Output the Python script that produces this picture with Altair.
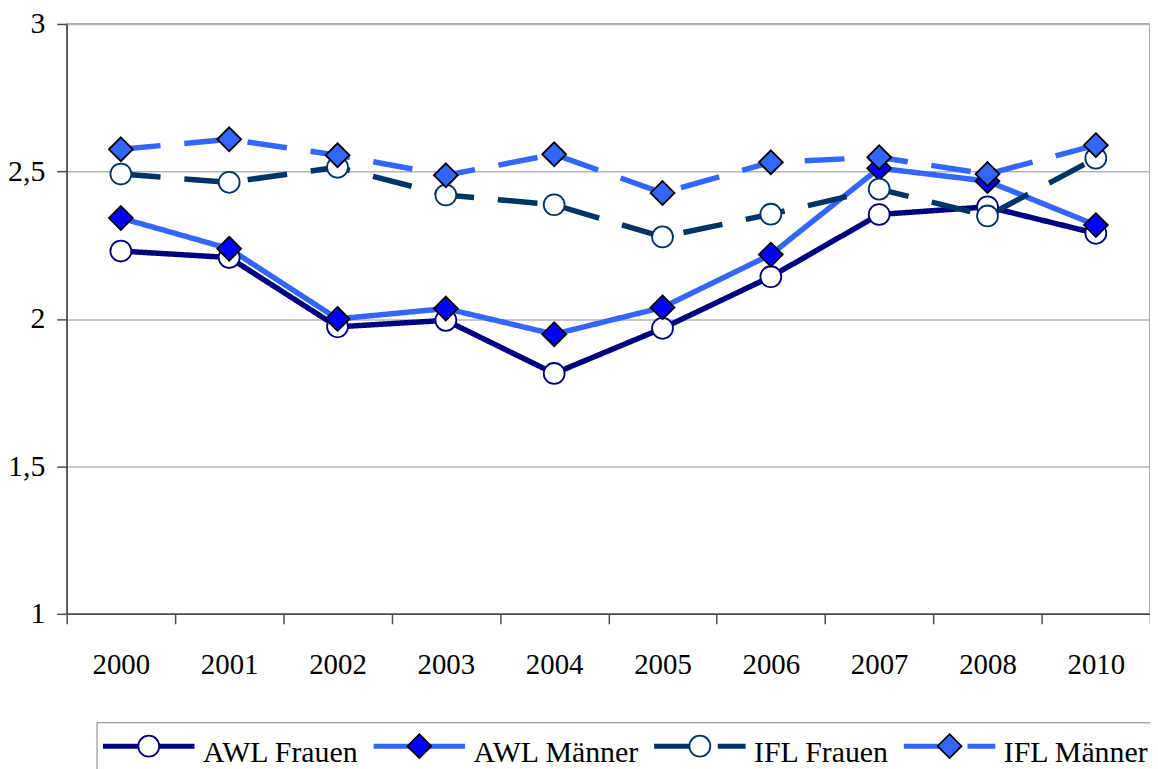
import altair as alt
import pandas as pd

# ---- data ----
years = ["2000", "2001", "2002", "2003", "2004", "2005", "2006", "2007", "2008", "2010"]
series_names = ["AWL Frauen", "AWL Männer", "IFL Frauen", "IFL Männer"]
awl_frauen = [2.230, 2.208, 1.973, 1.995, 1.815, 1.968, 2.143, 2.354, 2.380, 2.290]
awl_maenner = [2.342, 2.238, 2.000, 2.035, 1.948, 2.039, 2.218, 2.511, 2.467, 2.318]
ifl_frauen = [2.491, 2.463, 2.514, 2.420, 2.387, 2.278, 2.355, 2.440, 2.349, 2.545]
ifl_maenner = [2.575, 2.609, 2.555, 2.487, 2.558, 2.427, 2.531, 2.548, 2.491, 2.589]
y_ticks = [1, 1.5, 2, 2.5, 3]

all_series = [awl_frauen, awl_maenner, ifl_frauen, ifl_maenner]
rows = []
for name, vals in zip(series_names, all_series):
    for yr, v in zip(years, vals):
        rows.append({"year": yr, "value": v, "series": name, "series_pt": name})
df = pd.DataFrame(rows)

# ---- styles ----
line_colors = ["#000080", "#3366FF", "#003366", "#3366FF"]
dashes = [[1, 0], [1, 0], [40, 24], [40, 24]]
fill_colors = ["#FFFFFF", "#0000FF", "#FFFFFF", "#3366FF"]
stroke_colors = ["#000080", "#000000", "#003366", "#000000"]

SYM = 9025.0           # symbol size (sqrt = 95) shared by chart points and legend markers
K = SYM ** 0.5 / 2.0   # path scale factor
LINE_SYM = 8464.0      # legend line sample size (length 92)
KL = LINE_SYM ** 0.5 / 2.0
LIFT = 7.0             # legend sample drawn a little above the label centre


def circle_path(rpx):
    r = rpx / K
    c = 0.5523 * r
    return (f"M{r:.4f},0C{r:.4f},{c:.4f},{c:.4f},{r:.4f},0,{r:.4f}"
            f"C{-c:.4f},{r:.4f},{-r:.4f},{c:.4f},{-r:.4f},0"
            f"C{-r:.4f},{-c:.4f},{-c:.4f},{-r:.4f},0,{-r:.4f}"
            f"C{c:.4f},{-r:.4f},{r:.4f},{-c:.4f},{r:.4f},0Z")


def diamond_path(hpx):
    h = hpx / K
    return f"M0,{-h:.4f}L{h:.4f},0L0,{h:.4f}L{-h:.4f},0Z"


circ = circle_path(10.5)
diam = diamond_path(12.0)
shapes = [circ, diam, circ, diam]
line_symbol = f"M-1,{-LIFT / KL:.4f}L1,{-LIFT / KL:.4f}"

FONT = "Liberation Serif"
LEG_Y = 702

common_legend = dict(
    orient="none", legendX=30, direction="horizontal", title=None,
    padding=4, clipHeight=54, columnPadding=12, labelOffset=6,
    labelFont=FONT, labelFontSize=30, labelColor="black", labelLimit=0,
)
line_legend = alt.Legend(strokeColor="#808080", symbolType=line_symbol, symbolSize=LINE_SYM,
                         symbolStrokeWidth=5, zindex=1, legendY=LEG_Y, **common_legend)
marker_legend = alt.Legend(symbolSize=SYM, symbolStrokeWidth=1.8, labelOpacity=0,
                           zindex=2, legendY=LEG_Y - LIFT, **common_legend)

x_enc = alt.X(
    "year:N", sort=years,
    scale=alt.Scale(type="band", paddingInner=0, paddingOuter=0),
    axis=alt.Axis(title=None, labelAngle=0, tickBand="extent", grid=False,
                  domainColor="#4d4d4d", domainWidth=1.5, tickColor="#4d4d4d",
                  tickWidth=1.5, tickSize=10, labelFont=FONT, labelFontSize=29,
                  labelColor="black", labelPadding=27),
)
y_enc = alt.Y(
    "value:Q",
    scale=alt.Scale(domain=[1, 3], nice=False, zero=False),
    axis=alt.Axis(title=None, values=y_ticks,
                  labelExpr="replace(toString(datum.value), '.', ',')",
                  domainColor="#4d4d4d", domainWidth=1.5, tickColor="#4d4d4d",
                  tickWidth=1.5, tickSize=10, labelFont=FONT, labelFontSize=30,
                  labelColor="black", labelPadding=12, grid=True,
                  gridColor="#b3b3b3", gridWidth=1.5),
)

lines = alt.Chart(df).mark_line(strokeWidth=5.5, strokeJoin="round").encode(
    x=x_enc, y=y_enc,
    color=alt.Color("series:N", scale=alt.Scale(domain=series_names, range=line_colors),
                    legend=line_legend),
    strokeDash=alt.StrokeDash("series:N", scale=alt.Scale(domain=series_names, range=dashes),
                              legend=line_legend),
)

# point scales keep the data-driven (sorted) domain so their legend stays separate
points = alt.Chart(df).mark_point(filled=True, size=SYM, opacity=1, strokeWidth=1.8).encode(
    x=x_enc, y=y_enc,
    fill=alt.Fill("series_pt:N", scale=alt.Scale(range=fill_colors), legend=marker_legend),
    stroke=alt.Stroke("series_pt:N", scale=alt.Scale(range=stroke_colors), legend=marker_legend),
    shape=alt.Shape("series_pt:N", scale=alt.Scale(range=shapes), legend=marker_legend),
)

chart = alt.layer(lines, points).properties(
    width=1089, height=593,
    autosize=alt.AutoSizeParams(type="none"),
    padding={"left": 59, "top": 14, "right": 0, "bottom": 163},
    background="white",
).configure_view(stroke="#8c8c8c", strokeWidth=1.5)

chart.save("out.html", embed_options={"renderer": "svg", "actions": False})
